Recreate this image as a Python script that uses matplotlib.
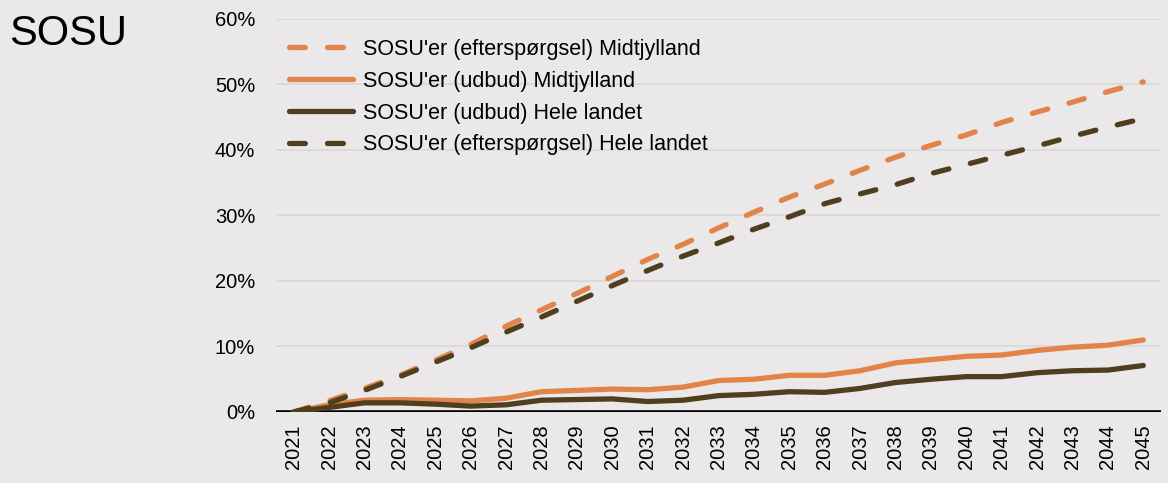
import matplotlib
matplotlib.use("Agg")
import matplotlib.pyplot as plt
import numpy as np

years = list(range(2021, 2046))

demand_midt = [0.0, 1.7, 3.6, 5.6, 7.9, 10.3, 13.1, 15.6, 18.1, 20.7, 23.3, 25.6, 28.1,
               30.5, 32.8, 34.8, 36.9, 38.9, 40.7, 42.3, 44.2, 45.8, 47.3, 48.9, 50.4]
supply_midt = [0.0, 1.1, 1.8, 1.9, 1.8, 1.7, 2.1, 3.1, 3.3, 3.5, 3.4, 3.8, 4.8,
               5.0, 5.6, 5.6, 6.3, 7.5, 8.0, 8.5, 8.7, 9.4, 9.9, 10.2, 11.0]
supply_all = [0.0, 0.7, 1.4, 1.4, 1.2, 0.9, 1.1, 1.8, 1.9, 2.0, 1.6, 1.8, 2.5,
              2.7, 3.1, 3.0, 3.6, 4.5, 5.0, 5.4, 5.4, 6.0, 6.3, 6.4, 7.1]
demand_all = [0.0, 1.4, 3.3, 5.4, 7.6, 9.8, 12.2, 14.5, 16.9, 19.3, 21.6, 23.8, 25.8,
              27.9, 29.8, 31.8, 33.3, 34.7, 36.4, 37.8, 39.2, 40.6, 42.1, 43.5, 44.8]

labels = ["SOSU'er (efterspørgsel) Midtjylland",
          "SOSU'er (udbud) Midtjylland",
          "SOSU'er (udbud) Hele landet",
          "SOSU'er (efterspørgsel) Hele landet"]
title = "SOSU"
yticks = [0, 10, 20, 30, 40, 50, 60]

ORANGE = "#E2844A"
BROWN = "#503F1F"
BG = "#EAE8E9"

plt.rcParams['font.family'] = ['Liberation Sans', 'DejaVu Sans']

fig = plt.figure(figsize=(11.68, 4.83), dpi=100, facecolor=BG)
ax = fig.add_axes([0.2363, 0.147, 0.994 - 0.2363, 0.9607 - 0.147])
ax.set_facecolor(BG)

x = np.arange(len(years))
lw = 3.8
kw = dict(solid_capstyle='round', dash_capstyle='round', solid_joinstyle='round')
ax.plot(x, demand_midt, color=ORANGE, lw=lw, dashes=(3, 4.2), label=labels[0], zorder=3, **kw)
ax.plot(x, supply_midt, color=ORANGE, lw=lw, label=labels[1], zorder=3, **kw)
ax.plot(x, supply_all, color=BROWN, lw=lw, label=labels[2], zorder=4, **kw)
ax.plot(x, demand_all, color=BROWN, lw=lw, dashes=(3, 4.2), label=labels[3], zorder=4, **kw)

ax.set_xlim(-0.5, len(years) - 0.5)
ax.set_ylim(0, 60)
ax.set_yticks(yticks)
ax.set_yticklabels([f"{v}%" for v in yticks], fontsize=14.5)
ax.set_xticks(x)
ax.set_xticklabels([str(y) for y in years], rotation=90, fontsize=14.5)
ax.tick_params(axis='both', length=0)
ax.tick_params(axis='y', pad=15)
ax.tick_params(axis='x', pad=9)
for s in ax.spines.values():
    s.set_visible(False)
ax.yaxis.grid(True, color="#D8D6D7", lw=1.2)
ax.set_axisbelow(True)
ax.axhline(0, color="black", lw=2.6, zorder=2)

leg = ax.legend(loc='upper left', bbox_to_anchor=(0.0, 0.982), frameon=False,
                fontsize=15.5, handlelength=3.0, handletextpad=0.45,
                labelspacing=0.5, borderaxespad=0.2)

fig.text(0.008, 0.93, title, fontsize=30, va='center', ha='left')

fig.savefig("out.png", dpi=100, facecolor=BG)
